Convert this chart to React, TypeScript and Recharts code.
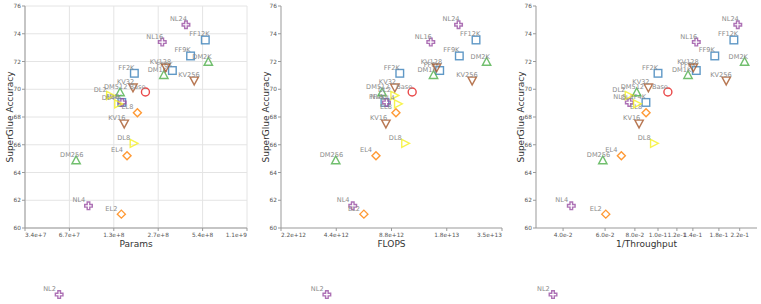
import { ScatterChart, Scatter, XAxis, YAxis, CartesianGrid } from "recharts";

// model variants
const names = [
  "Base", "FF2K", "FF4K", "FF6K", "FF9K", "FF12K",
  "DM256", "DM512", "DM1K", "DM2K",
  "NL2", "NL4", "NL8", "NL16", "NL24",
  "EL2", "EL4", "EL8",
  "DL2", "DL4", "DL8",
  "KV16", "KV32", "KV128", "KV256",
];
const accuracy = [
  69.8, 71.15, 69.05, 71.35, 72.4, 73.55,
  64.85, 69.75, 71.0, 71.95,
  55.2, 61.6, 69.05, 73.4, 74.65,
  61.0, 65.2, 68.3,
  69.55, 68.95, 66.1,
  67.55, 70.15, 71.6, 70.65,
];
const params = [
  2.2e8, 1.85e8, 1.52e8, 3.35e8, 4.45e8, 5.6e8,
  7.45e7, 1.48e8, 2.93e8, 5.87e8,
  5.72e7, 9.04e7, 1.53e8, 2.86e8, 4.14e8,
  1.51e8, 1.65e8, 1.94e8,
  1.26e8, 1.43e8, 1.82e8,
  1.58e8, 1.81e8, 3.02e8, 4.71e8,
];
const flops = [
  1.14e13, 9.76e12, 8.1e12, 1.61e13, 2.06e13, 2.54e13,
  4.37e12, 7.82e12, 1.49e13, 2.9e13,
  3.91e12, 5.41e12, 8.26e12, 1.44e13, 2.04e13,
  6.22e12, 7.24e12, 9.3e12,
  9.08e12, 9.5e12, 1.04e13,
  8.2e12, 9.17e12, 1.55e13, 2.42e13,
];
const invThroughput = [
  0.110, 0.100, 0.089, 0.1447, 0.173, 0.208,
  0.0587, 0.0814, 0.1336, 0.2307,
  0.0363, 0.0433, 0.0758, 0.1447, 0.216,
  0.0604, 0.0702, 0.0891,
  0.0751, 0.0814, 0.0959,
  0.0833, 0.0911, 0.1406, 0.1932,
];

const yTicks = [60, 62, 64, 66, 68, 70, 72, 74, 76];
const paramTicks = [2 ** 25, 2 ** 26, 2 ** 27, 2 ** 28, 2 ** 29, 2 ** 30];
const flopTicks = [2 ** 41, 2 ** 42, 2 ** 43, 2 ** 44, 2 ** 45];
const tputTicks = [0.04, 0.06, 0.08, 0.1, 0.12, 0.14, 0.18, 0.22];

const families = [
  { key: "FF", color: "#377eb8", kind: "square" },
  { key: "DM", color: "#4daf4a", kind: "up" },
  { key: "NL", color: "#984ea3", kind: "cross" },
  { key: "EL", color: "#ff7f00", kind: "diamond" },
  { key: "DL", color: "#f5f020", kind: "right" },
  { key: "KV", color: "#a65628", kind: "down" },
  { key: "Base", color: "#e41a1c", kind: "circle" },
];

const familyOf = (n: string) => n.replace(/\d+K?$/, "");

function Marker(props: any) {
  const { cx, cy, payload, kind, color } = props;
  if (cx == null || cy == null) return null;
  let el;
  if (kind === "circle") el = <circle cx={cx} cy={cy} r={4} />;
  else if (kind === "square") el = <rect x={cx - 3.8} y={cy - 3.8} width={7.6} height={7.6} />;
  else if (kind === "up")
    el = <polygon points={`${cx},${cy - 4.7} ${cx + 4.2},${cy + 3.1} ${cx - 4.2},${cy + 3.1}`} />;
  else if (kind === "down")
    el = <polygon points={`${cx},${cy + 4.7} ${cx + 4.2},${cy - 3.1} ${cx - 4.2},${cy - 3.1}`} />;
  else if (kind === "right")
    el = <polygon points={`${cx + 4.7},${cy} ${cx - 3.1},${cy - 4} ${cx - 3.1},${cy + 4}`} />;
  else if (kind === "diamond")
    el = <polygon points={`${cx},${cy - 4} ${cx + 4},${cy} ${cx},${cy + 4} ${cx - 4},${cy}`} />;
  else {
    const a = 3.8;
    const w = 1.3;
    el = (
      <polygon
        points={[
          [cx - w, cy - a], [cx + w, cy - a], [cx + w, cy - w], [cx + a, cy - w],
          [cx + a, cy + w], [cx + w, cy + w], [cx + w, cy + a], [cx - w, cy + a],
          [cx - w, cy + w], [cx - a, cy + w], [cx - a, cy - w], [cx - w, cy - w],
        ].map((p) => p.join(",")).join(" ")}
      />
    );
  }
  return (
    <g>
      <g fill="none" stroke={color} strokeWidth={1.4} strokeOpacity={0.8}>
        {el}
      </g>
      <text x={cx - 16} y={cy - 3.5} fontSize={6.6} fill="#8c8c8c">
        {payload.name}
      </text>
    </g>
  );
}

function XTick(props: any) {
  const { x, y, payload, ticks, flush, fmt } = props;
  let anchor = "middle";
  if (flush && payload.value === ticks[0]) anchor = "start";
  if (flush && payload.value === ticks[ticks.length - 1]) anchor = "end";
  return (
    <text x={x} y={y} dy="0.71em" textAnchor={anchor} fontSize={5.8} fill="#555">
      {fmt(payload.value)}
    </text>
  );
}

function YTick(props: any) {
  const { x, y, payload } = props;
  return (
    <text x={x} y={y} dy="0.35em" textAnchor="end" fontSize={5.8} fill="#555">
      {payload.value}
    </text>
  );
}

interface PanelProps {
  left: number;
  width: number;
  margin: { top: number; right: number; bottom: number; left: number };
  xValues: number[];
  xDomain: [number, number];
  xTicks: number[];
  flush: boolean;
  title: string;
  grid?: boolean;
}

function Panel({ left, width, margin, xValues, xDomain, xTicks, flush, title, grid }: PanelProps) {
  const fmt = (v: number) => v.toExponential(1);
  return (
    <div style={{ position: "absolute", left, top: 0 }}>
      <ScatterChart width={width} height={304} margin={margin}>
        {grid && <CartesianGrid stroke="#e4e4e4" strokeWidth={1} />}
        <XAxis
          type="number"
          dataKey="x"
          scale="log"
          domain={xDomain}
          allowDataOverflow
          ticks={xTicks}
          interval={0}
          height={30}
          axisLine={{ stroke: "#999" }}
          tickLine={{ stroke: "#999" }}
          tickSize={3}
          tickMargin={2}
          tick={<XTick ticks={xTicks} flush={flush} fmt={fmt} />}
          label={{
            content: (p: any) => {
              const vb = p.viewBox;
              return (
                <text x={vb.x + vb.width / 2} y={vb.y + 19} textAnchor="middle" fontSize={9} fill="#333">
                  {title}
                </text>
              );
            },
          }}
        />
        <YAxis
          type="number"
          dataKey="y"
          domain={[60, 76]}
          allowDataOverflow
          ticks={yTicks}
          interval={0}
          width={12}
          axisLine={{ stroke: "#999" }}
          tickLine={{ stroke: "#999" }}
          tickSize={3}
          tickMargin={1}
          tick={<YTick />}
          label={{
            content: (p: any) => {
              const vb = p.viewBox;
              const tx = vb.x + vb.width - 15;
              const ty = vb.y + vb.height / 2;
              return (
                <text
                  x={tx}
                  y={ty}
                  dy="0.35em"
                  textAnchor="middle"
                  fontSize={9}
                  fill="#333"
                  transform={`rotate(-90, ${tx}, ${ty})`}
                >
                  SuperGlue Accuracy
                </text>
              );
            },
          }}
        />
        {families.map((f) => {
          const data = names
            .map((n, i) => ({ name: n, x: xValues[i], y: accuracy[i] }))
            .filter((d) => familyOf(d.name) === f.key);
          return (
            <Scatter
              key={f.key}
              data={data}
              isAnimationActive={false}
              shape={(p: any) => <Marker {...p} kind={f.kind} color={f.color} />}
            />
          );
        })}
      </ScatterChart>
    </div>
  );
}

export default function App() {
  return (
    <div
      style={{
        position: "absolute",
        left: 0,
        top: 0,
        width: 761,
        height: 304,
        background: "#fff",
        fontFamily: "DejaVu Sans, Verdana, sans-serif",
      }}
    >
      <style>{`.recharts-wrapper [clip-path]{clip-path:none !important}`}</style>
      <Panel
        left={0}
        width={254}
        margin={{ top: 6, right: 7, bottom: 46, left: 13 }}
        xValues={params}
        xDomain={[2 ** 25, 2 ** 30]}
        xTicks={paramTicks}
        flush
        title="Params"
        grid
      />
      <Panel
        left={254}
        width={254}
        margin={{ top: 6, right: 6, bottom: 46, left: 15 }}
        xValues={flops}
        xDomain={[2 ** 41, 2 ** 45]}
        xTicks={flopTicks}
        flush
        title="FLOPS"
      />
      <Panel
        left={508}
        width={253}
        margin={{ top: 6, right: 4, bottom: 46, left: 16 }}
        xValues={invThroughput}
        xDomain={[0.0308, 0.26]}
        xTicks={tputTicks}
        flush={false}
        title="1/Throughput"
      />
    </div>
  );
}
